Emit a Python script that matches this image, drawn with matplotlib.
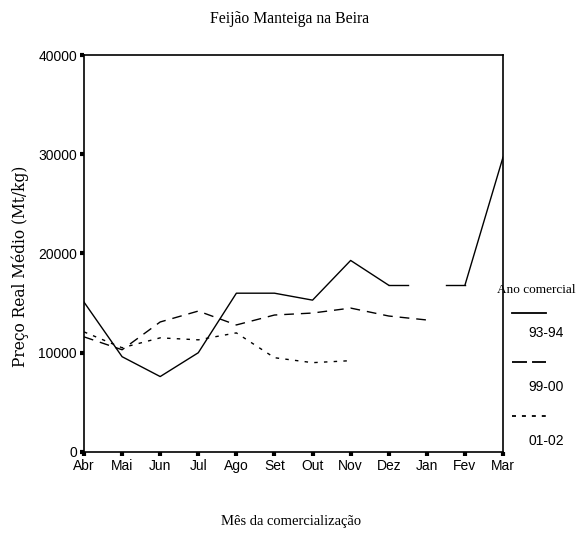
import matplotlib.pyplot as plt
import numpy as np
from matplotlib.lines import Line2D

# dados (preço real médio, Mt/kg); None = sem observação
meses = ['Abr', 'Mai', 'Jun', 'Jul', 'Ago', 'Set', 'Out', 'Nov', 'Dez', 'Jan', 'Fev', 'Mar']
anos = ['93-94', '99-00', '01-02']
p_93_94 = [15100, 9600, 7600, 10000, 16000, 16000, 15300, 19300, 16800, None, 16800, 29700]
p_99_00 = [11600, 10300, 13100, 14200, 12800, 13800, 14000, 14500, 13700, 13300, None, None]
p_01_02 = [12100, 10500, 11500, 11300, 12000, 9500, 9000, 9200, None, None, None, None]

estilos = ['-', (0, (7, 5)), (0, (2.5, 4.5))]
serie = [p_93_94, p_99_00, p_01_02]

serif = ['Liberation Serif', 'DejaVu Serif']
sans = ['Liberation Sans', 'DejaVu Sans']

fig = plt.figure(figsize=(5.83, 5.33), dpi=100)
ax = fig.add_axes([0.1441, 0.1520, 0.7187, 0.7448])

x = np.arange(len(meses))
for vals, ls in zip(serie, estilos):
    y = np.array([np.nan if v is None else v for v in vals], dtype=float)
    ax.plot(x, y, color='black', lw=1.0, linestyle=ls)
    # meio segmento junto a um mês em falta no meio da série (como o SPSS)
    ok = ~np.isnan(y)
    for i in range(len(y)):
        if not ok[i]:
            continue
        if i + 1 < len(y) and not ok[i + 1] and ok[i + 1:].any():
            ax.plot([i, i + 0.5], [y[i], y[i]], color='black', lw=1.0, linestyle=ls)
        if i - 1 >= 0 and not ok[i - 1] and ok[:i].any():
            ax.plot([i - 0.5, i], [y[i], y[i]], color='black', lw=1.0, linestyle=ls)

ax.set_xlim(0, len(meses) - 1)
ax.set_ylim(0, 40000)
ax.set_xticks(x)
ax.set_xticklabels(meses, family=sans, fontsize=10)
ax.set_yticks([0, 10000, 20000, 30000, 40000])
ax.set_yticklabels(['0', '10000', '20000', '30000', '40000'], family=sans, fontsize=10)
ax.tick_params(direction='out', length=3, width=3, pad=2)
for s in ax.spines.values():
    s.set_linewidth(1.2)

fig.text(0.497, 0.964, 'Feijão Manteiga na Beira', family=serif, fontsize=11.3,
         ha='center', va='center')
fig.text(0.034, 0.50, 'Preço Real Médio (Mt/kg)', family=['DejaVu Serif'], fontsize=11.2,
         rotation=90, ha='center', va='center')
fig.text(0.50, 0.022, 'Mês da comercialização', family=serif, fontsize=10.5,
         ha='center', va='center')

# legenda manual
fig.text(0.853, 0.456, 'Ano comercial', family=serif, fontsize=9.5, ha='left', va='center')
ly = [0.4128, 0.3208, 0.2195]
lt = [0.375, 0.274, 0.1726]
leg_ls = ['-', (0, (8.3, 2.8)), (0, (2.2, 3.3))]
for yy, ty, ls, nome in zip(ly, lt, leg_ls, anos):
    fig.add_artist(Line2D([0.878, 0.937], [yy, yy], color='black', lw=1.3, linestyle=ls,
                          transform=fig.transFigure))
    fig.text(0.907, ty, nome, family=sans, fontsize=10, ha='left', va='center')

fig.savefig('out.png', dpi=100)
